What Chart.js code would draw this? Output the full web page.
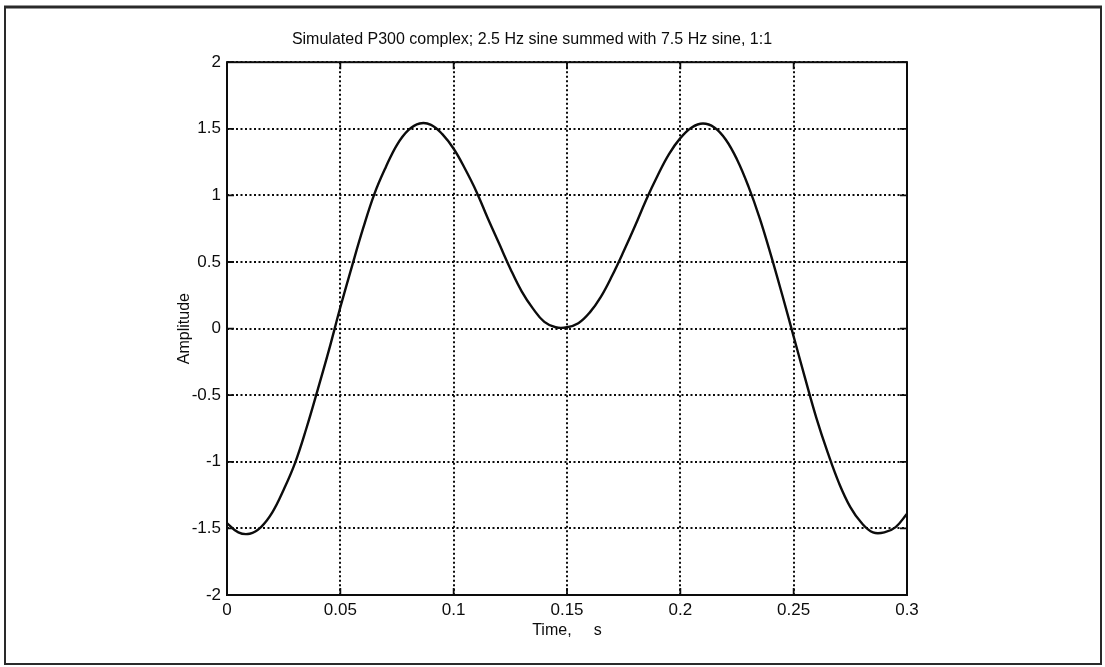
<!DOCTYPE html>
<html>
<head>
<meta charset="utf-8">
<title>Simulated P300 complex</title>
<script src="https://cdn.jsdelivr.net/npm/chart.js@4.4.1/dist/chart.umd.min.js"></script>
<style>
  html, body { margin: 0; padding: 0; background: #ffffff; }
  #wrap { width: 1105px; height: 667px; }
</style>
</head>
<body>
<div id="wrap"><canvas id="plot" width="1105" height="667"></canvas></div>
<script>
// Sample times (s) and summed amplitude of the 2.5 Hz + 7.5 Hz sines
const timeSeconds = [
  0.000, 0.005, 0.010, 0.015, 0.020, 0.025, 0.030, 0.035, 0.040, 0.045,
  0.050, 0.055, 0.060, 0.065, 0.070, 0.075, 0.080, 0.085, 0.090, 0.095,
  0.100, 0.105, 0.110, 0.115, 0.120, 0.125, 0.130, 0.135, 0.140, 0.145,
  0.150, 0.155, 0.160, 0.165, 0.170, 0.175, 0.180, 0.185, 0.190, 0.195,
  0.200, 0.205, 0.210, 0.215, 0.220, 0.225, 0.230, 0.235, 0.240, 0.245,
  0.250, 0.255, 0.260, 0.265, 0.270, 0.275, 0.280, 0.285, 0.290, 0.295,
  0.300
];
const amplitude = [
  -1.46, -1.53, -1.54, -1.49, -1.38, -1.21, -1.01, -0.75, -0.46, -0.16,
   0.16,  0.46,  0.75,  1.01,  1.21,  1.38,  1.49,  1.54,  1.53,  1.46,
   1.35,  1.20,  1.03,  0.83,  0.64,  0.45,  0.28,  0.15,  0.05,  0.01,
   0.01,  0.04,  0.12,  0.24,  0.40,  0.58,  0.77,  0.97,  1.15,  1.31,
   1.43,  1.51,  1.54,  1.51,  1.42,  1.27,  1.07,  0.83,  0.55,  0.25,
  -0.06, -0.37, -0.67, -0.93, -1.16, -1.34, -1.46, -1.53, -1.53, -1.49,
  -1.39
];
const xTickLabels = ['0', '0.05', '0.1', '0.15', '0.2', '0.25', '0.3'];
const yTickLabels = ['-2', '-1.5', '-1', '-0.5', '0', '0.5', '1', '1.5', '2'];
const chartTitle = 'Simulated P300 complex; 2.5 Hz sine summed with 7.5 Hz sine, 1:1';
const xAxisTitle = 'Time,     s';
const yAxisTitle = 'Amplitude';

const INK = '#0c0c0c';
const FONT = '"Liberation Sans", Arial, Helvetica, sans-serif';

const points = timeSeconds.map((t, i) => ({ x: t, y: amplitude[i] }));

// Page frame, axes box and inward tick marks
const framePlugin = {
  id: 'frame',
  beforeDraw(chart) {
    const ctx = chart.ctx;
    ctx.save();
    ctx.fillStyle = '#ffffff';
    ctx.fillRect(0, 0, chart.width, chart.height);
    ctx.strokeStyle = '#2a2a2a';
    ctx.lineWidth = 2;
    ctx.strokeRect(5, 7, 1096, 657);
    ctx.lineWidth = 3;
    ctx.beginPath();
    ctx.moveTo(4, 7);
    ctx.lineTo(1102, 7);
    ctx.stroke();
    ctx.restore();
  },
  afterDraw(chart) {
    const { ctx, chartArea: a, scales } = chart;
    ctx.save();
    ctx.strokeStyle = INK;
    ctx.lineWidth = 1.8;
    ctx.setLineDash([]);
    const tick = 7;
    ctx.beginPath();
    scales.x.ticks.forEach(t => {
      const px = scales.x.getPixelForValue(t.value);
      ctx.moveTo(px, a.bottom); ctx.lineTo(px, a.bottom - tick);
      ctx.moveTo(px, a.top); ctx.lineTo(px, a.top + tick);
    });
    scales.y.ticks.forEach(t => {
      const py = scales.y.getPixelForValue(t.value);
      ctx.moveTo(a.left, py); ctx.lineTo(a.left + tick, py);
      ctx.moveTo(a.right, py); ctx.lineTo(a.right - tick, py);
    });
    ctx.stroke();
    ctx.lineWidth = 2;
    ctx.strokeRect(a.left, a.top, a.right - a.left, a.bottom - a.top);
    ctx.restore();
  }
};

new Chart(document.getElementById('plot'), {
  type: 'scatter',
  data: {
    datasets: [{
      data: points,
      showLine: true,
      borderColor: INK,
      borderWidth: 2.4,
      pointRadius: 0,
      tension: 0.4,
      fill: false
    }]
  },
  options: {
    responsive: false,
    animation: false,
    devicePixelRatio: 1,
    layout: { padding: { left: 157, right: 198, top: 0, bottom: 0 } },
    plugins: {
      legend: { display: false },
      tooltip: { enabled: false },
      title: {
        display: true,
        text: chartTitle,
        color: INK,
        font: { family: FONT, size: 16, weight: 'normal' },
        padding: { top: 30, bottom: 13 }
      }
    },
    scales: {
      x: {
        type: 'linear',
        min: 0,
        max: 0.3,
        afterFit(scale) { scale.height = 72; },
        ticks: {
          stepSize: 0.05,
          color: INK,
          padding: 5,
          maxRotation: 0,
          font: { family: FONT, size: 17 },
          callback: (v, i) => xTickLabels[i]
        },
        grid: { color: INK, lineWidth: 2, drawTicks: false },
        border: { display: false, dash: [2, 2.5] },
        title: {
          display: true,
          text: xAxisTitle,
          color: INK,
          font: { family: FONT, size: 16 },
          padding: { top: 0, bottom: 27 }
        }
      },
      y: {
        type: 'linear',
        min: -2,
        max: 2,
        afterFit(scale) { scale.width = 70; },
        ticks: {
          stepSize: 0.5,
          color: INK,
          padding: 6,
          font: { family: FONT, size: 17 },
          callback: (v, i) => yTickLabels[i]
        },
        grid: { color: INK, lineWidth: 2, drawTicks: false },
        border: { display: false, dash: [2, 2.5] },
        title: {
          display: true,
          text: yAxisTitle,
          color: INK,
          font: { family: FONT, size: 16 },
          padding: { top: 18, bottom: 0 }
        }
      }
    }
  },
  plugins: [framePlugin]
});
</script>
</body>
</html>
